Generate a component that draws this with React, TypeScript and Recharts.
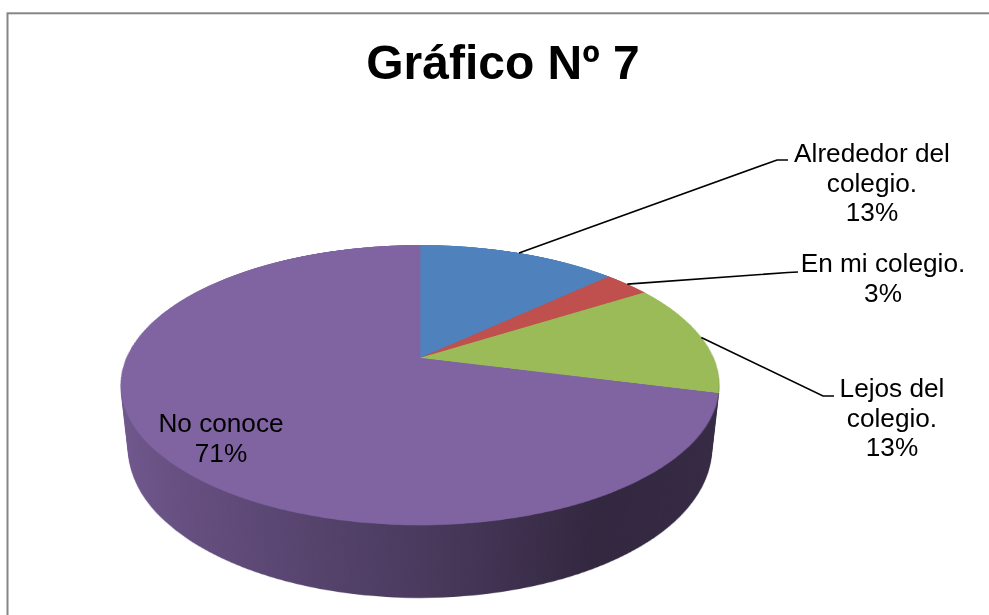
import React from 'react';
import { PieChart, Pie, Cell } from 'recharts';

const categories = ['Alrededor del colegio.', 'En mi colegio.', 'Lejos del colegio.', 'No conoce'];
const values = [13, 3, 13, 71];
const percentLabels = ['13%', '3%', '13%', '71%'];
const labelLines = [['Alrededor del', 'colegio.'], ['En mi colegio.'], ['Lejos del', 'colegio.'], ['No conoce']];
const colors = ['#4F81BD', '#C0504D', '#9BBB59', '#8064A2'];

const data = categories.map((name, i) => ({ name, value: values[i] }));

// 3D look: pie apex on screen, radius in the pie plane, tilt and camera distance
const CX = 420;
const CY = 358;
const R = 293.4;
const TILT = 62.65;
const PERSP = 1351;
const DEPTH = 73;
const LAYERS = 60;
const BOX = 600;

const FONT = "Arial, 'Liberation Sans', sans-serif";

// where the label text sits (screen px), and the elbow of its leader line
const labelLayout = [
  { x: 872, y: 162, elbow: [777, 160], end: [788, 160] },
  { x: 883, y: 272, elbow: [788, 272.5], end: [798, 272] },
  { x: 892, y: 397, elbow: [823, 396], end: [834, 396] },
  { x: 221, y: 432 },
];
const LINE_H = 29.5;

const shade = (hex: string, k: number) => {
  const n = parseInt(hex.slice(1), 16);
  const r = Math.round(((n >> 16) & 255) * k);
  const g = Math.round(((n >> 8) & 255) * k);
  const b = Math.round((n & 255) * k);
  return `rgb(${r},${g},${b})`;
};

// angle measured clockwise from 12 o'clock, r in pie-plane px
const project = (deg: number, r: number) => {
  const t = (deg * Math.PI) / 180;
  const a = (TILT * Math.PI) / 180;
  const x = r * Math.sin(t);
  const y = -r * Math.cos(t);
  const yr = y * Math.cos(a);
  const zr = y * Math.sin(a);
  const f = PERSP / (PERSP - zr);
  return [CX + x * f, CY + yr * f];
};

const total = values.reduce((s, v) => s + v, 0);
const midAngles = values.map((v, i) => {
  const before = values.slice(0, i).reduce((s, x) => s + x, 0);
  return ((before + v / 2) / total) * 360;
});

const SideGradients = () => (
  <svg width={0} height={0} style={{ position: 'absolute' }}>
    <defs>
      {colors.map((c, i) => (
        <linearGradient key={i} id={`side-${i}`} gradientUnits="userSpaceOnUse" x1={BOX / 2 - R} y1={0} x2={BOX / 2 + R} y2={0}>
          <stop offset="0" stopColor={shade(c, 0.88)} />
          <stop offset="0.5" stopColor={shade(c, 0.58)} />
          <stop offset="0.75" stopColor={shade(c, 0.39)} />
          <stop offset="1" stopColor={shade(c, 0.42)} />
        </linearGradient>
      ))}
    </defs>
  </svg>
);

const PieLayer = ({ depth, top }: { depth: number; top: boolean }) => (
  <div
    style={{
      position: 'absolute',
      left: CX - BOX / 2,
      top: CY - BOX / 2,
      width: BOX,
      height: BOX,
      transformOrigin: `${BOX / 2}px ${BOX / 2}px`,
      transform: `perspective(${PERSP}px) rotateX(${TILT}deg) translateZ(${-depth}px)`,
    }}
  >
    <PieChart width={BOX} height={BOX} margin={{ top: 0, right: 0, bottom: 0, left: 0 }}>
      <Pie
        data={data}
        dataKey="value"
        nameKey="name"
        cx={BOX / 2}
        cy={BOX / 2}
        outerRadius={R}
        startAngle={90}
        endAngle={-270}
        stroke="none"
        label={false}
        labelLine={false}
        isAnimationActive={false}
      >
        {data.map((d, i) => (
          <Cell
            key={`cell-${i}`}
            fill={top ? colors[i] : `url(#side-${i})`}
            stroke={top ? colors[i] : 'none'}
            strokeWidth={top ? 0.8 : 0}
          />
        ))}
      </Pie>
    </PieChart>
  </div>
);

const App = () => {
  const layers = [];
  for (let k = LAYERS; k >= 0; k--) {
    layers.push(<PieLayer key={k} depth={(DEPTH * k) / LAYERS} top={k === 0} />);
  }

  return (
    <div style={{ position: 'absolute', left: 0, top: 0, width: 989, height: 615, background: '#fff', overflow: 'hidden' }}>
      <SideGradients />
      <svg width={989} height={615} style={{ position: 'absolute', left: 0, top: 0 }}>
        <rect x={7.5} y={13.3} width={1200} height={800} fill="none" stroke="#868686" strokeWidth={2} />
      </svg>
      {layers}
      <svg width={989} height={615} style={{ position: 'absolute', left: 0, top: 0 }}>
        <text x={503} y={79} textAnchor="middle" fontFamily={FONT} fontWeight="bold" fontSize={48} fill="#000">
          Gráfico Nº 7
        </text>
        {labelLayout.map((l, i) => {
          const lines = [...labelLines[i], percentLabels[i]];
          const start = project(midAngles[i], R);
          return (
            <g key={i}>
              {l.elbow && l.end && (
                <polyline
                  points={`${start[0]},${start[1]} ${l.elbow[0]},${l.elbow[1]} ${l.end[0]},${l.end[1]}`}
                  fill="none"
                  stroke="#000"
                  strokeWidth={1.6}
                />
              )}
              <text textAnchor="middle" fontFamily={FONT} fontSize={26.2} fill="#000">
                {lines.map((t, j) => (
                  <tspan key={j} x={l.x} y={l.y + j * LINE_H}>
                    {t}
                  </tspan>
                ))}
              </text>
            </g>
          );
        })}
      </svg>
    </div>
  );
};

export default App;
